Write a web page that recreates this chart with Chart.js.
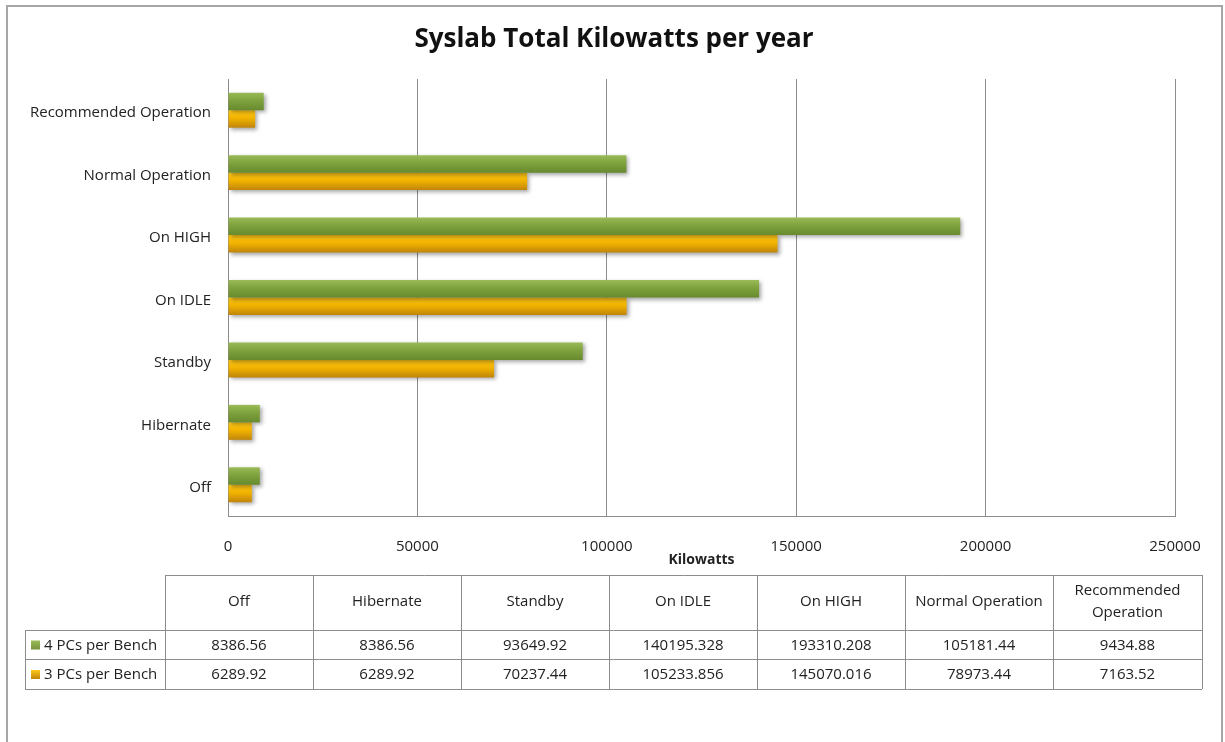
<!DOCTYPE html>
<html lang="en">
<head>
    <meta charset="UTF-8">
    <title>Syslab Total Kilowatts per year</title>
    <script src="https://cdn.jsdelivr.net/npm/chart.js"></script>
    <style>
        html, body { margin: 0; padding: 0; background: #ffffff; }
        #wrap { width: 1225px; height: 742px; position: relative; }
    </style>
</head>
<body>
    <div id="wrap"><canvas id="kwChart" width="1225" height="742"></canvas></div>

    <script>
        // Yearly kilowatt totals per power mode
        const modes = ['Off', 'Hibernate', 'Standby', 'On IDLE', 'On HIGH', 'Normal Operation', 'Recommended Operation'];
        const seriesNames = ['4 PCs per Bench', '3 PCs per Bench'];
        const fourPcs = [8386.56, 8386.56, 93649.92, 140195.328, 193310.208, 105181.44, 9434.88];
        const threePcs = [6289.92, 6289.92, 70237.44, 105233.856, 145070.016, 78973.44, 7163.52];
        const xTicks = [0, 50000, 100000, 150000, 200000, 250000];
        const chartTitle = 'Syslab Total Kilowatts per year';

        const FONT = '"Open Sans", "Liberation Sans", sans-serif';
        const TEXT = '#222222';
        const CAT_PCT = 0.56;

        const shades = [
            { top: '#9abb57', mid: '#7ea23d', bottom: '#678a2e', key: '#77933c' },
            { top: '#ffc81a', mid: '#f2b300', bottom: '#c0850a', key: '#e6a800' }
        ];

        // vertical gradient for each bar, worked out from the category scale
        function barFill(ctx) {
            const chart = ctx.chart;
            const y = chart.scales.y;
            const s = shades[ctx.datasetIndex];
            if (!y || ctx.type !== 'data' || !chart.chartArea) return s.mid;
            const center = y.getPixelForValue(ctx.dataIndex);
            const band = Math.abs(y.getPixelForValue(1) - y.getPixelForValue(0));
            const thick = band * CAT_PCT / 2;
            const top = center - band * CAT_PCT / 2 + ctx.datasetIndex * thick;
            const g = chart.ctx.createLinearGradient(0, top, 0, top + thick);
            g.addColorStop(0, s.top);
            g.addColorStop(0.45, s.mid);
            g.addColorStop(1, s.bottom);
            return g;
        }

        // soft drop shadow under the bars
        const barShadow = {
            id: 'barShadow',
            beforeDatasetsDraw(chart) {
                const c = chart.ctx;
                c.save();
                c.shadowColor = 'rgba(0,0,0,0.35)';
                c.shadowBlur = 4;
                c.shadowOffsetX = 2;
                c.shadowOffsetY = 2;
            },
            afterDatasetsDraw(chart) {
                chart.ctx.restore();
            }
        };

        // outer frame and the heading
        const frame = {
            id: 'frame',
            beforeDraw(chart) {
                const c = chart.ctx;
                c.save();
                c.fillStyle = '#ffffff';
                c.fillRect(0, 0, chart.width, chart.height);
                c.strokeStyle = '#a6a6a6';
                c.lineWidth = 2;
                c.strokeRect(7, 6, 1215, 800);
                c.fillStyle = '#111111';
                c.font = 'bold 26px ' + FONT;
                c.textAlign = 'center';
                c.textBaseline = 'middle';
                c.fillText(chartTitle, 614, 40);
                c.restore();
            }
        };

        // data table under the axis
        const dataTable = {
            id: 'dataTable',
            afterDraw(chart) {
                const c = chart.ctx;
                const cols = [165, 313, 461, 609, 757, 905, 1053, 1202];
                const labelLeft = 25;
                const rows = [575, 630, 659, 689];
                c.save();
                c.strokeStyle = '#8c8c8c';
                c.lineWidth = 1;

                // header row: no cell above the series names
                c.beginPath();
                c.moveTo(cols[0], rows[0] + 0.5);
                c.lineTo(cols[7], rows[0] + 0.5);
                for (let i = 1; i < rows.length; i++) {
                    c.moveTo(labelLeft, rows[i] + 0.5);
                    c.lineTo(cols[7], rows[i] + 0.5);
                }
                cols.forEach(x => {
                    c.moveTo(x + 0.5, rows[0]);
                    c.lineTo(x + 0.5, rows[3]);
                });
                c.moveTo(labelLeft + 0.5, rows[1]);
                c.lineTo(labelLeft + 0.5, rows[3]);
                c.stroke();

                c.fillStyle = TEXT;
                c.font = '15px ' + FONT;
                c.textAlign = 'center';
                c.textBaseline = 'middle';
                modes.forEach((m, i) => {
                    const cx = (cols[i] + cols[i + 1]) / 2;
                    const w = c.measureText(m).width;
                    if (w > cols[i + 1] - cols[i] - 10) {
                        const parts = m.split(' ');
                        c.fillText(parts[0], cx, 591);
                        c.fillText(parts.slice(1).join(' '), cx, 613);
                    } else {
                        c.fillText(m, cx, 602);
                    }
                });

                [fourPcs, threePcs].forEach((vals, r) => {
                    const cy = (rows[r + 1] + rows[r + 2]) / 2 + 1;
                    vals.forEach((v, i) => {
                        c.fillText(String(v), (cols[i] + cols[i + 1]) / 2, cy);
                    });
                    // legend key
                    const s = shades[r];
                    const g = c.createLinearGradient(0, cy - 5, 0, cy + 4);
                    g.addColorStop(0, s.top);
                    g.addColorStop(1, r === 0 ? s.key : s.bottom);
                    c.fillStyle = g;
                    c.fillRect(31, cy - 5, 9, 9);
                    c.fillStyle = TEXT;
                    c.textAlign = 'left';
                    c.fillText(seriesNames[r], 44, cy);
                    c.textAlign = 'center';
                });
                c.restore();
            }
        };

        new Chart(document.getElementById('kwChart'), {
            type: 'bar',
            data: {
                labels: modes,
                datasets: [
                    { label: seriesNames[0], data: fourPcs, backgroundColor: barFill },
                    { label: seriesNames[1], data: threePcs, backgroundColor: barFill }
                ]
            },
            options: {
                indexAxis: 'y',
                responsive: false,
                animation: false,
                categoryPercentage: CAT_PCT,
                barPercentage: 1,
                layout: { padding: { left: 10, right: 50, top: 79, bottom: 174 } },
                plugins: {
                    legend: { display: false },
                    tooltip: { enabled: false },
                    title: { display: false }
                },
                scales: {
                    x: {
                        min: 0,
                        max: 250000,
                        afterBuildTicks(scale) {
                            scale.ticks = xTicks.map(v => ({ value: v }));
                        },
                        afterFit(scale) { scale.height = 52; },
                        grid: { color: '#8c8c8c', lineWidth: 1, drawTicks: false },
                        border: { color: '#8c8c8c', width: 1 },
                        ticks: {
                            color: TEXT,
                            padding: 22,
                            maxRotation: 0,
                            font: { family: FONT, size: 15 },
                            callback: v => String(v)
                        },
                        title: {
                            display: true,
                            text: 'Kilowatts',
                            color: TEXT,
                            padding: 0,
                            font: { family: FONT, size: 14, weight: 'bold' }
                        }
                    },
                    y: {
                        reverse: true,
                        afterFit(scale) { scale.width = 218; },
                        grid: { display: false, drawTicks: false },
                        border: { color: '#8c8c8c', width: 1 },
                        ticks: {
                            color: TEXT,
                            padding: 17,
                            labelOffset: 3,
                            font: { family: FONT, size: 15 }
                        }
                    }
                }
            },
            plugins: [frame, barShadow, dataTable]
        });
    </script>
</body>
</html>
